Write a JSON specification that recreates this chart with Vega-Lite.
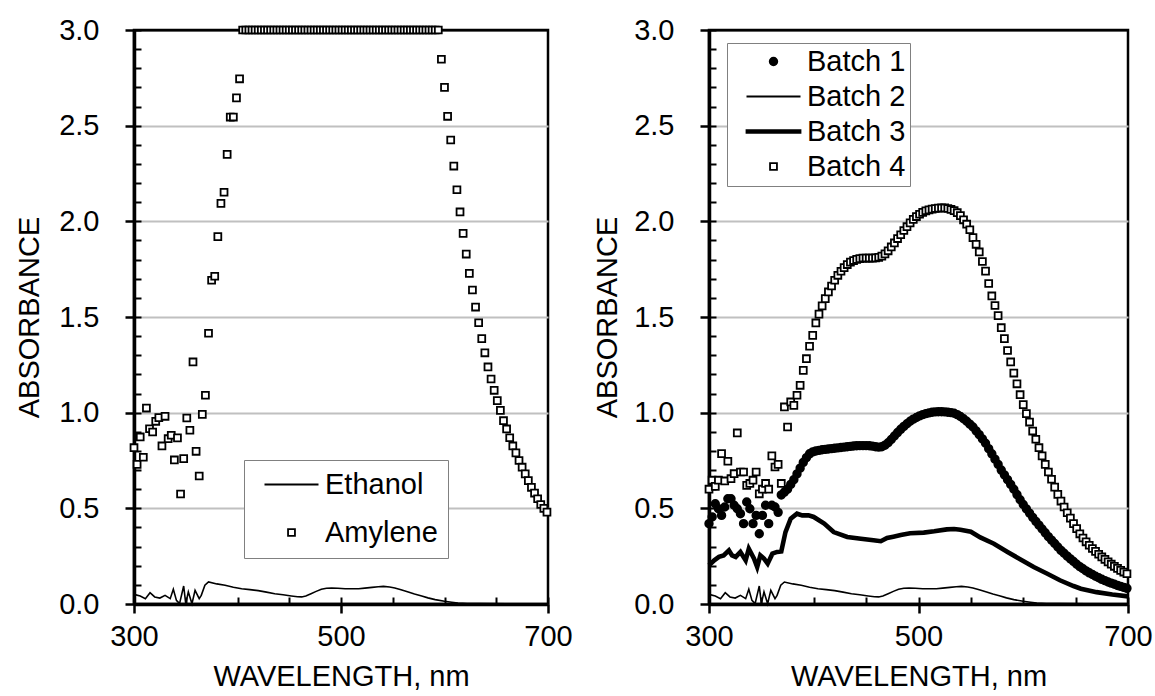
{
"$schema": "https://vega.github.io/schema/vega-lite/v6.json",
"padding": {"left": 14, "top": 14, "right": 5, "bottom": 5},
"bounds": "flush",
"spacing": 161,
"config": {
  "font": "Liberation Sans",
  "view": {"stroke": "black", "strokeWidth": 2.5},
  "axis": {"labelFont": "Liberation Sans", "labelFontSize": 29, "labelColor": "black", "titleFont": "Liberation Sans", "titleFontSize": 29, "titleFontWeight": "normal", "titleColor": "black", "tickColor": "black", "domainColor": "black", "labelFlush": false, "labelOverlap": false},
  "legend": {"labelFont": "Liberation Sans", "labelFontSize": 29, "labelColor": "black", "symbolStrokeColor": "black", "symbolStrokeWidth": 1.8, "symbolSize": 100, "fillColor": "white", "strokeColor": "#808080", "labelLimit": 400}
},
"resolve": {"scale": {"x": "independent", "y": "independent", "shape": "independent", "fill": "independent", "stroke": "independent"}, "legend": {"shape": "independent", "fill": "independent", "stroke": "independent"}},
"datasets": {
"eth": [{"x":300,"y":0.049},{"x":301,"y":0.049},{"x":306,"y":0.042},{"x":311,"y":0.028},{"x":315.5,"y":0.059},{"x":320,"y":0.037},{"x":325,"y":0.031},{"x":330,"y":0.045},{"x":335,"y":0.028},{"x":338,"y":0.077},{"x":341,"y":0.019},{"x":344,"y":0.002},{"x":348,"y":0.094},{"x":350,"y":0.002},{"x":352.5,"y":0.063},{"x":356,"y":0.002},{"x":359,"y":0.071},{"x":363,"y":0.028},{"x":365,"y":0.045},{"x":368.5,"y":0.098},{"x":372,"y":0.115},{"x":380,"y":0.105},{"x":388,"y":0.098},{"x":396,"y":0.088},{"x":404,"y":0.08},{"x":412,"y":0.075},{"x":420,"y":0.07},{"x":428,"y":0.062},{"x":436,"y":0.054},{"x":444,"y":0.048},{"x":452,"y":0.042},{"x":458,"y":0.038},{"x":462,"y":0.037},{"x":466,"y":0.042},{"x":471,"y":0.054},{"x":476,"y":0.066},{"x":481,"y":0.077},{"x":486,"y":0.082},{"x":491,"y":0.084},{"x":497,"y":0.082},{"x":504,"y":0.08},{"x":510,"y":0.08},{"x":517,"y":0.08},{"x":523,"y":0.083},{"x":530,"y":0.087},{"x":536,"y":0.09},{"x":541,"y":0.092},{"x":547,"y":0.089},{"x":552,"y":0.084},{"x":558,"y":0.074},{"x":565,"y":0.063},{"x":571,"y":0.052},{"x":578,"y":0.042},{"x":584,"y":0.032},{"x":591,"y":0.023},{"x":600,"y":0.014},{"x":607,"y":0.009},{"x":613,"y":0.005},{"x":622,"y":0.003},{"x":634,"y":0.002},{"x":660,"y":0.001},{"x":700,"y":0}],
"amy": [{"x":300,"y":0.817,"s":"Amylene"},{"x":303,"y":0.73,"s":"Amylene"},{"x":306,"y":0.873,"s":"Amylene"},{"x":309,"y":0.767,"s":"Amylene"},{"x":312,"y":1.024,"s":"Amylene"},{"x":315,"y":0.916,"s":"Amylene"},{"x":318,"y":0.899,"s":"Amylene"},{"x":321,"y":0.955,"s":"Amylene"},{"x":324,"y":0.974,"s":"Amylene"},{"x":327,"y":0.826,"s":"Amylene"},{"x":330,"y":0.981,"s":"Amylene"},{"x":333,"y":0.864,"s":"Amylene"},{"x":336,"y":0.882,"s":"Amylene"},{"x":339,"y":0.753,"s":"Amylene"},{"x":342,"y":0.868,"s":"Amylene"},{"x":345,"y":0.575,"s":"Amylene"},{"x":348,"y":0.76,"s":"Amylene"},{"x":351,"y":0.972,"s":"Amylene"},{"x":354,"y":0.908,"s":"Amylene"},{"x":357,"y":1.265,"s":"Amylene"},{"x":360,"y":0.798,"s":"Amylene"},{"x":363,"y":0.669,"s":"Amylene"},{"x":366,"y":0.991,"s":"Amylene"},{"x":369,"y":1.091,"s":"Amylene"},{"x":372,"y":1.415,"s":"Amylene"},{"x":375,"y":1.692,"s":"Amylene"},{"x":378,"y":1.713,"s":"Amylene"},{"x":381,"y":1.92,"s":"Amylene"},{"x":384,"y":2.094,"s":"Amylene"},{"x":387,"y":2.152,"s":"Amylene"},{"x":390,"y":2.35,"s":"Amylene"},{"x":393,"y":2.545,"s":"Amylene"},{"x":396,"y":2.545,"s":"Amylene"},{"x":399,"y":2.645,"s":"Amylene"},{"x":402,"y":2.745,"s":"Amylene"},
{"x":405,"y":3,"s":"Amylene"},{"x":408,"y":3,"s":"Amylene"},{"x":411,"y":3,"s":"Amylene"},{"x":414,"y":3,"s":"Amylene"},{"x":417,"y":3,"s":"Amylene"},{"x":420,"y":3,"s":"Amylene"},{"x":423,"y":3,"s":"Amylene"},{"x":426,"y":3,"s":"Amylene"},{"x":429,"y":3,"s":"Amylene"},{"x":432,"y":3,"s":"Amylene"},{"x":435,"y":3,"s":"Amylene"},{"x":438,"y":3,"s":"Amylene"},{"x":441,"y":3,"s":"Amylene"},{"x":444,"y":3,"s":"Amylene"},{"x":447,"y":3,"s":"Amylene"},{"x":450,"y":3,"s":"Amylene"},{"x":453,"y":3,"s":"Amylene"},{"x":456,"y":3,"s":"Amylene"},{"x":459,"y":3,"s":"Amylene"},{"x":462,"y":3,"s":"Amylene"},{"x":465,"y":3,"s":"Amylene"},{"x":468,"y":3,"s":"Amylene"},{"x":471,"y":3,"s":"Amylene"},{"x":474,"y":3,"s":"Amylene"},{"x":477,"y":3,"s":"Amylene"},{"x":480,"y":3,"s":"Amylene"},{"x":483,"y":3,"s":"Amylene"},{"x":486,"y":3,"s":"Amylene"},{"x":489,"y":3,"s":"Amylene"},{"x":492,"y":3,"s":"Amylene"},{"x":495,"y":3,"s":"Amylene"},{"x":498,"y":3,"s":"Amylene"},{"x":501,"y":3,"s":"Amylene"},{"x":504,"y":3,"s":"Amylene"},{"x":507,"y":3,"s":"Amylene"},{"x":510,"y":3,"s":"Amylene"},{"x":513,"y":3,"s":"Amylene"},{"x":516,"y":3,"s":"Amylene"},{"x":519,"y":3,"s":"Amylene"},{"x":522,"y":3,"s":"Amylene"},{"x":525,"y":3,"s":"Amylene"},{"x":528,"y":3,"s":"Amylene"},{"x":531,"y":3,"s":"Amylene"},{"x":534,"y":3,"s":"Amylene"},{"x":537,"y":3,"s":"Amylene"},{"x":540,"y":3,"s":"Amylene"},{"x":543,"y":3,"s":"Amylene"},{"x":546,"y":3,"s":"Amylene"},{"x":549,"y":3,"s":"Amylene"},{"x":552,"y":3,"s":"Amylene"},{"x":555,"y":3,"s":"Amylene"},{"x":558,"y":3,"s":"Amylene"},{"x":561,"y":3,"s":"Amylene"},{"x":564,"y":3,"s":"Amylene"},{"x":567,"y":3,"s":"Amylene"},{"x":570,"y":3,"s":"Amylene"},{"x":573,"y":3,"s":"Amylene"},{"x":576,"y":3,"s":"Amylene"},{"x":579,"y":3,"s":"Amylene"},{"x":582,"y":3,"s":"Amylene"},{"x":585,"y":3,"s":"Amylene"},{"x":588,"y":3,"s":"Amylene"},{"x":591,"y":3,"s":"Amylene"},{"x":594,"y":3,"s":"Amylene"},
{"x":597,"y":2.847,"s":"Amylene"},{"x":600,"y":2.7,"s":"Amylene"},{"x":603,"y":2.549,"s":"Amylene"},{"x":606,"y":2.425,"s":"Amylene"},{"x":609,"y":2.289,"s":"Amylene"},{"x":612,"y":2.165,"s":"Amylene"},{"x":615,"y":2.049,"s":"Amylene"},{"x":618,"y":1.937,"s":"Amylene"},{"x":621,"y":1.829,"s":"Amylene"},{"x":624,"y":1.728,"s":"Amylene"},{"x":627,"y":1.641,"s":"Amylene"},{"x":630,"y":1.552,"s":"Amylene"},{"x":633,"y":1.47,"s":"Amylene"},{"x":636,"y":1.387,"s":"Amylene"},{"x":639,"y":1.313,"s":"Amylene"},{"x":642,"y":1.239,"s":"Amylene"},{"x":645,"y":1.176,"s":"Amylene"},{"x":648,"y":1.117,"s":"Amylene"},{"x":651,"y":1.063,"s":"Amylene"},{"x":654,"y":1.012,"s":"Amylene"},{"x":657,"y":0.958,"s":"Amylene"},{"x":660,"y":0.915,"s":"Amylene"},{"x":663,"y":0.869,"s":"Amylene"},{"x":666,"y":0.826,"s":"Amylene"},{"x":669,"y":0.79,"s":"Amylene"},{"x":672,"y":0.75,"s":"Amylene"},{"x":675,"y":0.715,"s":"Amylene"},{"x":678,"y":0.68,"s":"Amylene"},{"x":681,"y":0.645,"s":"Amylene"},{"x":684,"y":0.61,"s":"Amylene"},{"x":687,"y":0.58,"s":"Amylene"},{"x":690,"y":0.55,"s":"Amylene"},{"x":693,"y":0.52,"s":"Amylene"},{"x":696,"y":0.5,"s":"Amylene"},{"x":699,"y":0.48,"s":"Amylene"}],
"b3": [{"x":300,"y":0.202},{"x":305,"y":0.228},{"x":309.5,"y":0.246},{"x":314,"y":0.254},{"x":319,"y":0.28},{"x":322,"y":0.254},{"x":325.5,"y":0.246},{"x":330,"y":0.272},{"x":335,"y":0.228},{"x":338,"y":0.289},{"x":343,"y":0.237},{"x":346,"y":0.193},{"x":349,"y":0.254},{"x":352.5,"y":0.237},{"x":356,"y":0.211},{"x":360.5,"y":0.263},{"x":365,"y":0.272},{"x":369,"y":0.275},{"x":373,"y":0.376},{"x":378,"y":0.446},{"x":384,"y":0.472},{"x":389,"y":0.463},{"x":395,"y":0.463},{"x":400,"y":0.455},{"x":410,"y":0.42},{"x":419,"y":0.376},{"x":432,"y":0.35},{"x":445,"y":0.341},{"x":457,"y":0.333},{"x":464,"y":0.328},{"x":470,"y":0.345},{"x":476,"y":0.352},{"x":483,"y":0.361},{"x":492,"y":0.37},{"x":505,"y":0.373},{"x":515,"y":0.38},{"x":527,"y":0.39},{"x":534,"y":0.392},{"x":540,"y":0.388},{"x":550,"y":0.378},{"x":559,"y":0.348},{"x":572,"y":0.315},{"x":585,"y":0.272},{"x":597,"y":0.234},{"x":610,"y":0.193},{"x":623,"y":0.158},{"x":635,"y":0.124},{"x":648,"y":0.094},{"x":655,"y":0.08},{"x":670,"y":0.062},{"x":685,"y":0.05},{"x":700,"y":0.04}],
"rp": [{"x":300,"y":0.42,"s":"Batch 1"},{"x":303,"y":0.455,"s":"Batch 1"},{"x":306,"y":0.524,"s":"Batch 1"},{"x":309,"y":0.498,"s":"Batch 1"},{"x":312,"y":0.463,"s":"Batch 1"},{"x":315,"y":0.507,"s":"Batch 1"},{"x":318,"y":0.55,"s":"Batch 1"},{"x":321,"y":0.55,"s":"Batch 1"},{"x":324,"y":0.516,"s":"Batch 1"},{"x":327,"y":0.498,"s":"Batch 1"},{"x":330,"y":0.472,"s":"Batch 1"},{"x":333,"y":0.42,"s":"Batch 1"},{"x":336,"y":0.533,"s":"Batch 1"},{"x":339,"y":0.498,"s":"Batch 1"},{"x":342,"y":0.42,"s":"Batch 1"},{"x":345,"y":0.463,"s":"Batch 1"},{"x":348,"y":0.367,"s":"Batch 1"},{"x":351,"y":0.463,"s":"Batch 1"},{"x":354,"y":0.516,"s":"Batch 1"},{"x":357,"y":0.42,"s":"Batch 1"},{"x":360,"y":0.516,"s":"Batch 1"},{"x":363,"y":0.507,"s":"Batch 1"},{"x":366,"y":0.479,"s":"Batch 1"},
{"x":369,"y":0.57,"s":"Batch 1"},{"x":372,"y":0.585,"s":"Batch 1"},{"x":375,"y":0.6,"s":"Batch 1"},{"x":378,"y":0.625,"s":"Batch 1"},{"x":381,"y":0.65,"s":"Batch 1"},{"x":384,"y":0.68,"s":"Batch 1"},{"x":387,"y":0.71,"s":"Batch 1"},{"x":390,"y":0.74,"s":"Batch 1"},{"x":393,"y":0.765,"s":"Batch 1"},{"x":396,"y":0.785,"s":"Batch 1"},{"x":399,"y":0.795,"s":"Batch 1"},{"x":402,"y":0.8,"s":"Batch 1"},{"x":405,"y":0.803,"s":"Batch 1"},{"x":408,"y":0.806,"s":"Batch 1"},{"x":411,"y":0.808,"s":"Batch 1"},{"x":414,"y":0.81,"s":"Batch 1"},{"x":417,"y":0.812,"s":"Batch 1"},{"x":420,"y":0.814,"s":"Batch 1"},{"x":423,"y":0.816,"s":"Batch 1"},{"x":426,"y":0.818,"s":"Batch 1"},{"x":429,"y":0.82,"s":"Batch 1"},{"x":432,"y":0.822,"s":"Batch 1"},{"x":435,"y":0.824,"s":"Batch 1"},{"x":438,"y":0.826,"s":"Batch 1"},{"x":441,"y":0.827,"s":"Batch 1"},{"x":444,"y":0.828,"s":"Batch 1"},{"x":447,"y":0.828,"s":"Batch 1"},{"x":450,"y":0.828,"s":"Batch 1"},{"x":453,"y":0.827,"s":"Batch 1"},{"x":456,"y":0.825,"s":"Batch 1"},{"x":459,"y":0.822,"s":"Batch 1"},{"x":462,"y":0.82,"s":"Batch 1"},{"x":465,"y":0.822,"s":"Batch 1"},{"x":468,"y":0.83,"s":"Batch 1"},{"x":471,"y":0.843,"s":"Batch 1"},{"x":474,"y":0.86,"s":"Batch 1"},{"x":477,"y":0.878,"s":"Batch 1"},{"x":480,"y":0.896,"s":"Batch 1"},{"x":483,"y":0.913,"s":"Batch 1"},{"x":486,"y":0.928,"s":"Batch 1"},{"x":489,"y":0.942,"s":"Batch 1"},{"x":492,"y":0.955,"s":"Batch 1"},{"x":495,"y":0.966,"s":"Batch 1"},{"x":498,"y":0.975,"s":"Batch 1"},{"x":501,"y":0.983,"s":"Batch 1"},{"x":504,"y":0.99,"s":"Batch 1"},{"x":507,"y":0.995,"s":"Batch 1"},{"x":510,"y":0.999,"s":"Batch 1"},{"x":513,"y":1.002,"s":"Batch 1"},{"x":516,"y":1.004,"s":"Batch 1"},{"x":519,"y":1.005,"s":"Batch 1"},{"x":522,"y":1.005,"s":"Batch 1"},{"x":525,"y":1.004,"s":"Batch 1"},{"x":528,"y":1.002,"s":"Batch 1"},{"x":531,"y":1.0,"s":"Batch 1"},{"x":534,"y":0.997,"s":"Batch 1"},{"x":537,"y":0.99,"s":"Batch 1"},{"x":540,"y":0.98,"s":"Batch 1"},{"x":543,"y":0.968,"s":"Batch 1"},{"x":546,"y":0.955,"s":"Batch 1"},{"x":549,"y":0.94,"s":"Batch 1"},{"x":552,"y":0.925,"s":"Batch 1"},{"x":555,"y":0.905,"s":"Batch 1"},{"x":558,"y":0.885,"s":"Batch 1"},{"x":561,"y":0.863,"s":"Batch 1"},{"x":564,"y":0.84,"s":"Batch 1"},{"x":567,"y":0.812,"s":"Batch 1"},{"x":570,"y":0.785,"s":"Batch 1"},{"x":573,"y":0.757,"s":"Batch 1"},{"x":576,"y":0.73,"s":"Batch 1"},{"x":579,"y":0.7,"s":"Batch 1"},{"x":582,"y":0.675,"s":"Batch 1"},{"x":585,"y":0.65,"s":"Batch 1"},{"x":588,"y":0.625,"s":"Batch 1"},{"x":591,"y":0.6,"s":"Batch 1"},{"x":594,"y":0.572,"s":"Batch 1"},{"x":597,"y":0.545,"s":"Batch 1"},{"x":600,"y":0.52,"s":"Batch 1"},{"x":603,"y":0.497,"s":"Batch 1"},{"x":606,"y":0.475,"s":"Batch 1"},{"x":609,"y":0.453,"s":"Batch 1"},{"x":612,"y":0.432,"s":"Batch 1"},{"x":615,"y":0.412,"s":"Batch 1"},{"x":618,"y":0.392,"s":"Batch 1"},{"x":621,"y":0.372,"s":"Batch 1"},{"x":624,"y":0.352,"s":"Batch 1"},{"x":627,"y":0.334,"s":"Batch 1"},{"x":630,"y":0.316,"s":"Batch 1"},{"x":633,"y":0.298,"s":"Batch 1"},{"x":636,"y":0.28,"s":"Batch 1"},{"x":639,"y":0.265,"s":"Batch 1"},{"x":642,"y":0.25,"s":"Batch 1"},{"x":645,"y":0.236,"s":"Batch 1"},{"x":648,"y":0.222,"s":"Batch 1"},{"x":651,"y":0.208,"s":"Batch 1"},{"x":654,"y":0.195,"s":"Batch 1"},{"x":657,"y":0.184,"s":"Batch 1"},{"x":660,"y":0.173,"s":"Batch 1"},{"x":663,"y":0.163,"s":"Batch 1"},{"x":666,"y":0.154,"s":"Batch 1"},{"x":669,"y":0.145,"s":"Batch 1"},{"x":672,"y":0.137,"s":"Batch 1"},{"x":675,"y":0.129,"s":"Batch 1"},{"x":678,"y":0.122,"s":"Batch 1"},{"x":681,"y":0.115,"s":"Batch 1"},{"x":684,"y":0.109,"s":"Batch 1"},{"x":687,"y":0.103,"s":"Batch 1"},{"x":690,"y":0.097,"s":"Batch 1"},{"x":693,"y":0.092,"s":"Batch 1"},{"x":696,"y":0.087,"s":"Batch 1"},{"x":699,"y":0.082,"s":"Batch 1"},
{"x":300,"y":0.6,"s":"Batch 4"},{"x":303,"y":0.647,"s":"Batch 4"},{"x":306,"y":0.615,"s":"Batch 4"},{"x":309,"y":0.647,"s":"Batch 4"},{"x":312,"y":0.786,"s":"Batch 4"},{"x":315,"y":0.643,"s":"Batch 4"},{"x":318,"y":0.746,"s":"Batch 4"},{"x":321,"y":0.655,"s":"Batch 4"},{"x":324,"y":0.681,"s":"Batch 4"},{"x":327,"y":0.894,"s":"Batch 4"},{"x":330,"y":0.69,"s":"Batch 4"},{"x":333,"y":0.69,"s":"Batch 4"},{"x":336,"y":0.62,"s":"Batch 4"},{"x":339,"y":0.63,"s":"Batch 4"},{"x":342,"y":0.647,"s":"Batch 4"},{"x":345,"y":0.69,"s":"Batch 4"},{"x":348,"y":0.576,"s":"Batch 4"},{"x":351,"y":0.6,"s":"Batch 4"},{"x":354,"y":0.63,"s":"Batch 4"},{"x":357,"y":0.6,"s":"Batch 4"},{"x":360,"y":0.774,"s":"Batch 4"},{"x":363,"y":0.716,"s":"Batch 4"},{"x":366,"y":0.73,"s":"Batch 4"},{"x":369,"y":0.63,"s":"Batch 4"},{"x":372,"y":1.03,"s":"Batch 4"},{"x":375,"y":0.925,"s":"Batch 4"},{"x":378,"y":1.056,"s":"Batch 4"},{"x":381,"y":1.038,"s":"Batch 4"},{"x":384,"y":1.091,"s":"Batch 4"},{"x":387,"y":1.143,"s":"Batch 4"},{"x":390,"y":1.221,"s":"Batch 4"},{"x":393,"y":1.282,"s":"Batch 4"},{"x":396,"y":1.347,"s":"Batch 4"},{"x":399,"y":1.404,"s":"Batch 4"},{"x":402,"y":1.469,"s":"Batch 4"},{"x":405,"y":1.515,"s":"Batch 4"},{"x":408,"y":1.558,"s":"Batch 4"},{"x":411,"y":1.596,"s":"Batch 4"},{"x":414,"y":1.631,"s":"Batch 4"},{"x":417,"y":1.662,"s":"Batch 4"},{"x":420,"y":1.692,"s":"Batch 4"},{"x":423,"y":1.718,"s":"Batch 4"},{"x":426,"y":1.739,"s":"Batch 4"},{"x":429,"y":1.758,"s":"Batch 4"},{"x":432,"y":1.774,"s":"Batch 4"},{"x":435,"y":1.787,"s":"Batch 4"},{"x":438,"y":1.795,"s":"Batch 4"},{"x":441,"y":1.801,"s":"Batch 4"},{"x":444,"y":1.805,"s":"Batch 4"},{"x":447,"y":1.808,"s":"Batch 4"},{"x":450,"y":1.808,"s":"Batch 4"},{"x":453,"y":1.808,"s":"Batch 4"},{"x":456,"y":1.808,"s":"Batch 4"},{"x":459,"y":1.809,"s":"Batch 4"},{"x":462,"y":1.812,"s":"Batch 4"},{"x":465,"y":1.818,"s":"Batch 4"},{"x":468,"y":1.83,"s":"Batch 4"},{"x":471,"y":1.846,"s":"Batch 4"},{"x":474,"y":1.866,"s":"Batch 4"},{"x":477,"y":1.887,"s":"Batch 4"},{"x":480,"y":1.91,"s":"Batch 4"},{"x":483,"y":1.93,"s":"Batch 4"},{"x":486,"y":1.952,"s":"Batch 4"},{"x":489,"y":1.972,"s":"Batch 4"},{"x":492,"y":1.992,"s":"Batch 4"},{"x":495,"y":2.01,"s":"Batch 4"},{"x":498,"y":2.025,"s":"Batch 4"},{"x":501,"y":2.037,"s":"Batch 4"},{"x":504,"y":2.047,"s":"Batch 4"},{"x":507,"y":2.055,"s":"Batch 4"},{"x":510,"y":2.06,"s":"Batch 4"},{"x":513,"y":2.064,"s":"Batch 4"},{"x":516,"y":2.067,"s":"Batch 4"},{"x":519,"y":2.069,"s":"Batch 4"},{"x":522,"y":2.07,"s":"Batch 4"},{"x":525,"y":2.07,"s":"Batch 4"},{"x":528,"y":2.067,"s":"Batch 4"},{"x":531,"y":2.062,"s":"Batch 4"},{"x":534,"y":2.056,"s":"Batch 4"},{"x":537,"y":2.045,"s":"Batch 4"},{"x":540,"y":2.03,"s":"Batch 4"},{"x":543,"y":2.008,"s":"Batch 4"},{"x":546,"y":1.985,"s":"Batch 4"},{"x":549,"y":1.956,"s":"Batch 4"},{"x":552,"y":1.915,"s":"Batch 4"},{"x":555,"y":1.88,"s":"Batch 4"},{"x":558,"y":1.84,"s":"Batch 4"},{"x":561,"y":1.79,"s":"Batch 4"},{"x":564,"y":1.74,"s":"Batch 4"},{"x":567,"y":1.675,"s":"Batch 4"},{"x":570,"y":1.61,"s":"Batch 4"},{"x":573,"y":1.56,"s":"Batch 4"},{"x":576,"y":1.507,"s":"Batch 4"},{"x":579,"y":1.444,"s":"Batch 4"},{"x":582,"y":1.387,"s":"Batch 4"},{"x":585,"y":1.325,"s":"Batch 4"},{"x":588,"y":1.265,"s":"Batch 4"},{"x":591,"y":1.207,"s":"Batch 4"},{"x":594,"y":1.151,"s":"Batch 4"},{"x":597,"y":1.094,"s":"Batch 4"},{"x":600,"y":1.042,"s":"Batch 4"},{"x":603,"y":0.995,"s":"Batch 4"},{"x":606,"y":0.951,"s":"Batch 4"},{"x":609,"y":0.904,"s":"Batch 4"},{"x":612,"y":0.861,"s":"Batch 4"},{"x":615,"y":0.817,"s":"Batch 4"},{"x":618,"y":0.774,"s":"Batch 4"},{"x":621,"y":0.73,"s":"Batch 4"},{"x":624,"y":0.69,"s":"Batch 4"},{"x":627,"y":0.652,"s":"Batch 4"},{"x":630,"y":0.611,"s":"Batch 4"},{"x":633,"y":0.573,"s":"Batch 4"},{"x":636,"y":0.538,"s":"Batch 4"},{"x":639,"y":0.507,"s":"Batch 4"},{"x":642,"y":0.477,"s":"Batch 4"},{"x":645,"y":0.449,"s":"Batch 4"},{"x":648,"y":0.42,"s":"Batch 4"},{"x":651,"y":0.394,"s":"Batch 4"},{"x":654,"y":0.367,"s":"Batch 4"},{"x":657,"y":0.345,"s":"Batch 4"},{"x":660,"y":0.325,"s":"Batch 4"},{"x":663,"y":0.307,"s":"Batch 4"},{"x":666,"y":0.29,"s":"Batch 4"},{"x":669,"y":0.275,"s":"Batch 4"},{"x":672,"y":0.26,"s":"Batch 4"},{"x":675,"y":0.246,"s":"Batch 4"},{"x":678,"y":0.233,"s":"Batch 4"},{"x":681,"y":0.22,"s":"Batch 4"},{"x":684,"y":0.208,"s":"Batch 4"},{"x":687,"y":0.197,"s":"Batch 4"},{"x":690,"y":0.186,"s":"Batch 4"},{"x":693,"y":0.176,"s":"Batch 4"},{"x":696,"y":0.167,"s":"Batch 4"},{"x":699,"y":0.158,"s":"Batch 4"}]
},
"hconcat": [
{
  "width": 414, "height": 574,
  "resolve": {"axis": {"x": "independent", "y": "independent"}},
  "layer": [
    {"data": {"name": "eth"}, "mark": {"type": "line", "color": "black", "strokeWidth": 1.6},
     "encoding": {
       "x": {"field": "x", "type": "quantitative", "scale": {"domain": [300, 700], "nice": false, "zero": false},
             "axis": {"orient": "bottom", "values": [300, 500, 700], "tickSize": 9, "tickWidth": 2.5, "domainWidth": 3.5, "labelPadding": 9, "grid": false, "title": "WAVELENGTH, nm", "titlePadding": 11}},
       "y": {"field": "y", "type": "quantitative", "scale": {"domain": [0, 3], "nice": false},
             "axis": {"orient": "left", "values": [0, 0.5, 1, 1.5, 2, 2.5, 3], "format": ".1f", "tickSize": 9, "tickWidth": 2.5, "domainWidth": 3.5, "labelPadding": 26, "grid": true, "gridColor": {"condition": {"test": "datum.value >= 3", "value": "black"}, "value": "#c0c0c0"}, "gridWidth": 2, "title": "ABSORBANCE", "titlePadding": 14}}
     }},
    {"data": {"name": "amy"}, "mark": {"type": "point", "filled": true, "stroke": "black", "strokeWidth": 1.8, "size": 100, "opacity": 1},
     "encoding": {
       "x": {"field": "x", "type": "quantitative", "scale": {"domain": [300, 700], "nice": false, "zero": false},
             "axis": {"orient": "bottom", "values": [300, 350, 400, 450, 500, 550, 600, 650, 700], "tickSize": -7, "tickWidth": 2, "domain": false, "labels": false, "grid": false, "title": null}},
       "y": {"field": "y", "type": "quantitative", "scale": {"domain": [0, 3], "nice": false},
             "axis": {"orient": "left", "values": [0,0.1,0.2,0.3,0.4,0.5,0.6,0.7,0.8,0.9,1,1.1,1.2,1.3,1.4,1.5,1.6,1.7,1.8,1.9,2,2.1,2.2,2.3,2.4,2.5,2.6,2.7,2.8,2.9,3], "tickSize": -7, "tickWidth": 2, "domain": false, "labels": false, "grid": false, "title": null}},
       "shape": {"field": "s", "type": "nominal", "scale": {"domain": ["Ethanol", "Amylene"], "range": ["M-5.4,0H5.4", "M-0.69,-0.69H0.69V0.69H-0.69Z"]},
                 "legend": {"title": null, "orient": "none", "legendX": 110, "legendY": 430, "direction": "vertical", "padding": 10, "rowPadding": 18, "symbolOffset": 23, "labelOffset": 19, "symbolStrokeColor": "black", "symbolStrokeWidth": 1.8}},
       "fill": {"field": "s", "type": "nominal", "scale": {"domain": ["Ethanol", "Amylene"], "range": ["black", "white"]},
                 "legend": {"title": null, "orient": "none", "legendX": 110, "legendY": 430, "direction": "vertical", "padding": 10, "rowPadding": 18, "symbolOffset": 23, "labelOffset": 19, "symbolStrokeColor": "black", "symbolStrokeWidth": 1.8}},
       "stroke": {"field": "s", "type": "nominal", "scale": {"domain": ["Ethanol", "Amylene"], "range": ["black", "black"]},
                 "legend": {"title": null, "orient": "none", "legendX": 110, "legendY": 430, "direction": "vertical", "padding": 10, "rowPadding": 18, "symbolOffset": 23, "labelOffset": 19, "symbolStrokeColor": "black", "symbolStrokeWidth": 1.8}}
     }}
  ]
},
{
  "width": 419, "height": 574,
  "resolve": {"axis": {"x": "independent", "y": "independent"}},
  "layer": [
    {"data": {"name": "eth"}, "mark": {"type": "line", "color": "black", "strokeWidth": 1.6},
     "encoding": {
       "x": {"field": "x", "type": "quantitative", "scale": {"domain": [300, 700], "nice": false, "zero": false},
             "axis": {"orient": "bottom", "values": [300, 500, 700], "tickSize": 9, "tickWidth": 2.5, "domainWidth": 3.5, "labelPadding": 9, "grid": false, "title": "WAVELENGTH, nm", "titlePadding": 11}},
       "y": {"field": "y", "type": "quantitative", "scale": {"domain": [0, 3], "nice": false},
             "axis": {"orient": "left", "values": [0, 0.5, 1, 1.5, 2, 2.5, 3], "format": ".1f", "tickSize": 9, "tickWidth": 2.5, "domainWidth": 3.5, "labelPadding": 26, "grid": true, "gridColor": {"condition": {"test": "datum.value >= 3", "value": "black"}, "value": "#c0c0c0"}, "gridWidth": 2, "title": "ABSORBANCE", "titlePadding": 11}}
     }},
    {"data": {"name": "b3"}, "mark": {"type": "line", "color": "black", "strokeWidth": 4.6},
     "encoding": {
       "x": {"field": "x", "type": "quantitative", "scale": {"domain": [300, 700], "nice": false, "zero": false},
             "axis": {"orient": "bottom", "values": [300, 350, 400, 450, 500, 550, 600, 650, 700], "tickSize": -7, "tickWidth": 2, "domain": false, "labels": false, "grid": false, "title": null}},
       "y": {"field": "y", "type": "quantitative", "scale": {"domain": [0, 3], "nice": false},
             "axis": {"orient": "left", "values": [0,0.1,0.2,0.3,0.4,0.5,0.6,0.7,0.8,0.9,1,1.1,1.2,1.3,1.4,1.5,1.6,1.7,1.8,1.9,2,2.1,2.2,2.3,2.4,2.5,2.6,2.7,2.8,2.9,3], "tickSize": -7, "tickWidth": 2, "domain": false, "labels": false, "grid": false, "title": null}}
     }},
    {"data": {"name": "rp"}, "mark": {"type": "point", "filled": true, "stroke": "black", "strokeWidth": 1.8, "size": 100, "opacity": 1},
     "encoding": {
       "x": {"field": "x", "type": "quantitative", "scale": {"domain": [300, 700], "nice": false, "zero": false}, "axis": null},
       "y": {"field": "y", "type": "quantitative", "scale": {"domain": [0, 3], "nice": false}, "axis": null},
       "shape": {"field": "s", "type": "nominal", "scale": {"domain": ["Batch 1", "Batch 2", "Batch 3", "Batch 4"], "range": ["M-0.76,0A0.76,0.76,0,1,1,0.76,0A0.76,0.76,0,1,1,-0.76,0Z", "M-5.4,0H5.4", "M-5.4,-0.28H5.4V0.28H-5.4Z", "M-0.69,-0.69H0.69V0.69H-0.69Z"]},
                 "legend": {"title": null, "orient": "none", "legendX": 18, "legendY": 13, "direction": "vertical", "padding": 4, "rowPadding": 5, "symbolOffset": 28, "labelOffset": 19, "symbolStrokeColor": "black", "symbolStrokeWidth": 1.8}},
       "fill": {"field": "s", "type": "nominal", "scale": {"domain": ["Batch 1", "Batch 2", "Batch 3", "Batch 4"], "range": ["black", "black", "black", "white"]},
                 "legend": {"title": null, "orient": "none", "legendX": 18, "legendY": 13, "direction": "vertical", "padding": 4, "rowPadding": 5, "symbolOffset": 28, "labelOffset": 19, "symbolStrokeColor": "black", "symbolStrokeWidth": 1.8}},
       "stroke": {"field": "s", "type": "nominal", "scale": {"domain": ["Batch 1", "Batch 2", "Batch 3", "Batch 4"], "range": ["black", "black", "black", "black"]},
                 "legend": {"title": null, "orient": "none", "legendX": 18, "legendY": 13, "direction": "vertical", "padding": 4, "rowPadding": 5, "symbolOffset": 28, "labelOffset": 19, "symbolStrokeColor": "black", "symbolStrokeWidth": 1.8}}
     }}
  ]
}
]
}
